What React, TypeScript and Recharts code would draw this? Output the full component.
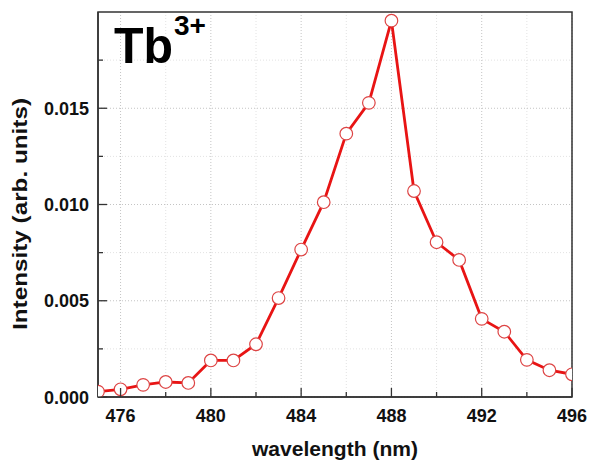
import React from "react";
import {
  LineChart,
  Line,
  XAxis,
  YAxis,
  CartesianGrid,
  ReferenceArea,
} from "recharts";

const wavelengths = [475, 476, 477, 478, 479, 480, 481, 482, 483, 484, 485, 486, 487, 488, 489, 490, 491, 492, 493, 494, 495, 496];
const intensities = [
  0.00028, 0.0004, 0.00063, 0.00078, 0.00073, 0.0019, 0.0019, 0.00274, 0.00514, 0.00766,
  0.01012, 0.01368, 0.01528, 0.01955, 0.0107, 0.00804, 0.00712, 0.00406, 0.00339, 0.00193,
  0.00139, 0.00118,
];

const majorXTicks = [476, 480, 484, 488, 492, 496];
const minorXTicks = [478, 482, 486, 490, 494];
const majorYTicks = [0, 0.005, 0.01, 0.015];
const minorYTicks = [0.0025, 0.0075, 0.0125, 0.0175];

const FONT = "'Liberation Sans', Arial, sans-serif";
const RED = "#e81414";

const data = wavelengths.map((w, i) => ({ wavelength: w, intensity: intensities[i] }));

function XTick({ x, y, payload }: any) {
  const major = majorXTicks.includes(payload.value);
  return (
    <g>
      <line x1={x} y1={y} x2={x} y2={y - (major ? 9 : 5)} stroke="#333" strokeWidth={1.3} />
      {major && (
        <text x={x} y={y + 25} textAnchor="middle" fontSize={18} fontWeight="bold" fontFamily={FONT} fill="#111">
          {payload.value}
        </text>
      )}
    </g>
  );
}

function YTick({ x, y, payload }: any) {
  const major = majorYTicks.includes(payload.value);
  return (
    <g>
      <line x1={x} y1={y} x2={x + (major ? 9 : 5)} y2={y} stroke="#333" strokeWidth={1.3} />
      {major && (
        <text x={x - 9} y={y + 6.5} textAnchor="end" fontSize={18} fontWeight="bold" fontFamily={FONT} fill="#111">
          {payload.value.toFixed(3)}
        </text>
      )}
    </g>
  );
}

export default function App() {
  return (
    <div style={{ position: "absolute", left: 0, top: 0, background: "#fff" }}>
      <LineChart width={590} height={461} data={data} margin={{ top: 12, right: 18, left: 0, bottom: 0 }}>
        <CartesianGrid
          stroke="#e2e2e2"
          strokeDasharray="1 2"
          horizontalValues={minorYTicks}
          verticalValues={minorXTicks}
        />
        <CartesianGrid
          stroke="#c4c4c4"
          strokeDasharray="1 2"
          horizontalValues={majorYTicks}
          verticalValues={majorXTicks}
        />
        <XAxis
          dataKey="wavelength"
          type="number"
          domain={[475, 496]}
          ticks={[...majorXTicks, ...minorXTicks].sort((a, b) => a - b)}
          allowDataOverflow
          height={64}
          tickSize={0}
          tickMargin={0}
          tickLine={false}
          tick={<XTick />}
          axisLine={{ stroke: "#333", strokeWidth: 1.5 }}
          interval={0}
          label={{
            content: () => (
              <text x={335} y={456} textAnchor="middle" fontSize={21} fontWeight="bold" fontFamily={FONT} fill="#111" textLength={166} lengthAdjust="spacingAndGlyphs">
                wavelength (nm)
              </text>
            ),
          }}
        />
        <YAxis
          type="number"
          domain={[0, 0.02]}
          ticks={[...majorYTicks, ...minorYTicks].sort((a, b) => a - b)}
          allowDataOverflow
          width={98}
          tickSize={0}
          tickMargin={0}
          tickLine={false}
          tick={<YTick />}
          axisLine={{ stroke: "#333", strokeWidth: 1.5 }}
          interval={0}
          label={{
            content: () => (
              <text
                x={27}
                y={214}
                transform="rotate(-90 27 214)"
                textAnchor="middle"
                fontSize={21}
                fontWeight="bold"
                fontFamily={FONT}
                fill="#111"
                textLength={232}
                lengthAdjust="spacingAndGlyphs"
              >
                Intensity (arb. units)
              </text>
            ),
          }}
        />
        <ReferenceArea x1={475} x2={496} y1={0} y2={0.02} fill="none" stroke="#333" strokeWidth={1.5} ifOverflow="visible" />
        <Line
          type="linear"
          dataKey="intensity"
          stroke={RED}
          strokeWidth={2.8}
          dot={{ r: 6.3, fill: "#fff", stroke: "#dd4444", strokeWidth: 1.2 }}
          isAnimationActive={false}
        />
        <text x={114} y={63} fontSize={50} fontWeight="bold" fontFamily={FONT} fill="#000" textLength={59} lengthAdjust="spacingAndGlyphs">
          Tb
        </text>
        <text x={174} y={35} fontSize={28} fontWeight="bold" fontFamily={FONT} fill="#000">
          3+
        </text>
      </LineChart>
    </div>
  );
}
